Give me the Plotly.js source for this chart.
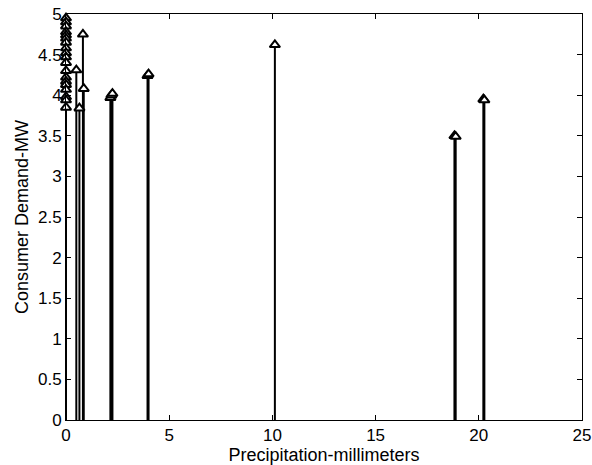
<!DOCTYPE html>
<html>
<head>
<meta charset="utf-8">
<script src="https://cdn.plot.ly/plotly-3.0.1.min.js"></script>
<style>html,body{margin:0;padding:0;background:#fff;}#chart{width:592px;height:465px;}</style>
</head>
<body>
<div id="chart"></div>
<script>
// Precipitation (mm) and consumer demand (MW)
const precipitation = [
  0, 0, 0, 0, 0, 0, 0, 0, 0, 0, 0, 0, 0, 0, 0, 0, 0, 0, 0,
  0.5, 0.65, 0.82, 0.86,
  2.15, 2.2, 2.25,
  3.95, 4.0,
  10.12,
  18.82, 18.88,
  20.22, 20.27
];
const demand = [
  4.95, 4.9, 4.85, 4.78, 4.74, 4.7, 4.65, 4.58, 4.52, 4.47, 4.4, 4.3, 4.22, 4.17, 4.13, 4.07, 3.98, 3.94, 3.85,
  4.31, 3.84, 4.75, 4.08,
  3.97, 4.0, 4.02,
  4.24, 4.26,
  4.62,
  3.5, 3.49,
  3.95, 3.94
];
const xTicks = [0, 5, 10, 15, 20, 25];
const yTicks = [0, 0.5, 1, 1.5, 2, 2.5, 3, 3.5, 4, 4.5, 5];

const stemX = [], stemY = [];
for (let i = 0; i < precipitation.length; i++) {
  stemX.push(precipitation[i], precipitation[i], null);
  stemY.push(0, demand[i], null);
}

const traces = [
  {
    x: stemX, y: stemY, type: 'scatter', mode: 'lines', cliponaxis: false,
    line: {color: '#000', width: 2}, hoverinfo: 'skip', showlegend: false
  },
  {
    x: precipitation, y: demand, type: 'scatter', mode: 'markers', cliponaxis: false,
    marker: {symbol: 'triangle-up', size: 9, color: '#fff', line: {color: '#000', width: 2}},
    showlegend: false
  }
];

const fam = 'Liberation Sans, Arial, sans-serif';
const tickFont = {family: fam, size: 17, color: '#000'};
const titleFont = {family: fam, size: 18, color: '#000'};
const layout = {
  width: 592, height: 465,
  margin: {l: 66, r: 10, t: 14, b: 45},
  paper_bgcolor: '#fff', plot_bgcolor: '#fff',
  font: tickFont,
  xaxis: {
    range: [0, 25], tickvals: xTicks, ticks: 'inside', ticklen: 5, tickcolor: '#000',
    showgrid: false, zeroline: false, showline: true, linecolor: '#000', linewidth: 1, mirror: 'ticks',
    tickfont: tickFont, automargin: false,
    title: {text: 'Precipitation-millimeters', font: titleFont, standoff: 0}
  },
  yaxis: {
    range: [0, 5], tickvals: yTicks, ticks: 'inside', ticklen: 5, tickcolor: '#000',
    showgrid: false, zeroline: false, showline: true, linecolor: '#000', linewidth: 1, mirror: 'ticks',
    tickfont: tickFont, automargin: false,
    title: {text: 'Consumer Demand-MW', font: titleFont, standoff: 4}
  }
};
Plotly.newPlot('chart', traces, layout, {staticPlot: true, displayModeBar: false});
</script>
</body>
</html>
